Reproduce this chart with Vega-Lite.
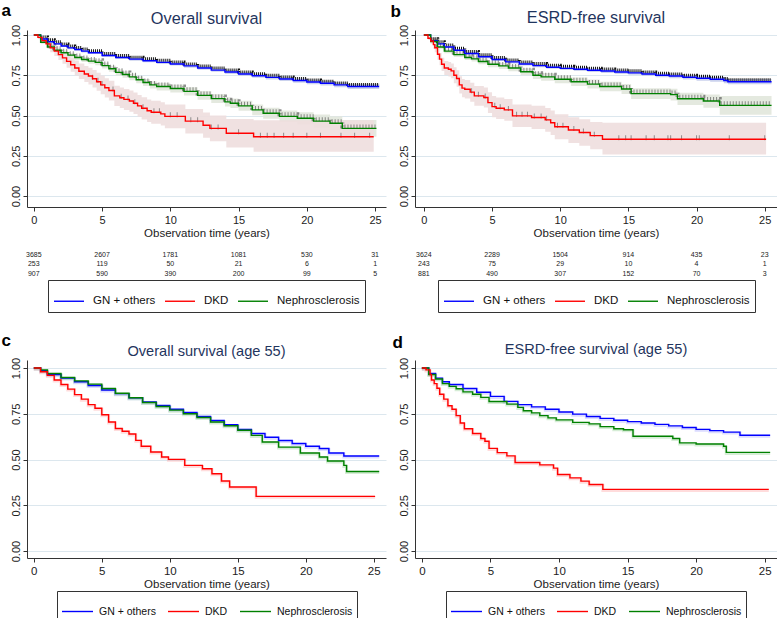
{
"$schema":"https://vega.github.io/schema/vega-lite/v6.json",
"padding":{"left":1,"top":1,"right":0,"bottom":0},
"config":{"font":"Liberation Sans","view":{"stroke":null},
 "axis":{"domainColor":"#333","tickColor":"#333","labelColor":"#222","titleColor":"#222","labelFont":"Liberation Sans","titleFont":"Liberation Sans","gridColor":"#dce7ee","tickSize":4,"titleFontWeight":"normal"},
 "title":{"font":"Liberation Sans","fontWeight":"normal","color":"#1f355e"},
 "legend":{"layout":{"bottom":{"anchor":"middle"}},"labelFont":"Liberation Sans","labelColor":"#111"}},
"datasets":{
"km":[
{"p":"a","g":"GN + others","t":0,"s":1,"lo":1,"hi":1},
{"p":"a","g":"GN + others","t":0.5,"s":0.975,"lo":0.97,"hi":0.98},
{"p":"a","g":"GN + others","t":1,"s":0.958,"lo":0.952,"hi":0.964},
{"p":"a","g":"GN + others","t":1.5,"s":0.945,"lo":0.938,"hi":0.952},
{"p":"a","g":"GN + others","t":2,"s":0.932,"lo":0.925,"hi":0.939},
{"p":"a","g":"GN + others","t":2.5,"s":0.92,"lo":0.912,"hi":0.928},
{"p":"a","g":"GN + others","t":3,"s":0.91,"lo":0.902,"hi":0.918},
{"p":"a","g":"GN + others","t":3.5,"s":0.9,"lo":0.892,"hi":0.908},
{"p":"a","g":"GN + others","t":4,"s":0.89,"lo":0.882,"hi":0.898},
{"p":"a","g":"GN + others","t":5,"s":0.873,"lo":0.864,"hi":0.882},
{"p":"a","g":"GN + others","t":6,"s":0.86,"lo":0.851,"hi":0.869},
{"p":"a","g":"GN + others","t":7,"s":0.85,"lo":0.84,"hi":0.86},
{"p":"a","g":"GN + others","t":8,"s":0.84,"lo":0.83,"hi":0.85},
{"p":"a","g":"GN + others","t":9,"s":0.83,"lo":0.82,"hi":0.84},
{"p":"a","g":"GN + others","t":10,"s":0.82,"lo":0.81,"hi":0.83},
{"p":"a","g":"GN + others","t":11,"s":0.808,"lo":0.797,"hi":0.819},
{"p":"a","g":"GN + others","t":12,"s":0.795,"lo":0.784,"hi":0.806},
{"p":"a","g":"GN + others","t":13,"s":0.782,"lo":0.771,"hi":0.793},
{"p":"a","g":"GN + others","t":14,"s":0.77,"lo":0.758,"hi":0.782},
{"p":"a","g":"GN + others","t":15,"s":0.758,"lo":0.746,"hi":0.77},
{"p":"a","g":"GN + others","t":16,"s":0.747,"lo":0.735,"hi":0.759},
{"p":"a","g":"GN + others","t":17,"s":0.737,"lo":0.724,"hi":0.75},
{"p":"a","g":"GN + others","t":18,"s":0.727,"lo":0.714,"hi":0.74},
{"p":"a","g":"GN + others","t":19,"s":0.717,"lo":0.704,"hi":0.73},
{"p":"a","g":"GN + others","t":20,"s":0.708,"lo":0.694,"hi":0.722},
{"p":"a","g":"GN + others","t":21,"s":0.7,"lo":0.686,"hi":0.714},
{"p":"a","g":"GN + others","t":22,"s":0.69,"lo":0.675,"hi":0.705},
{"p":"a","g":"GN + others","t":23,"s":0.68,"lo":0.665,"hi":0.695},
{"p":"a","g":"GN + others","t":25.3,"s":0.68,"lo":0.665,"hi":0.695},
{"p":"a","g":"Nephrosclerosis","t":0,"s":1,"lo":1,"hi":1},
{"p":"a","g":"Nephrosclerosis","t":0.5,"s":0.955,"lo":0.945,"hi":0.965},
{"p":"a","g":"Nephrosclerosis","t":1,"s":0.925,"lo":0.913,"hi":0.937},
{"p":"a","g":"Nephrosclerosis","t":1.5,"s":0.905,"lo":0.892,"hi":0.918},
{"p":"a","g":"Nephrosclerosis","t":2,"s":0.89,"lo":0.876,"hi":0.904},
{"p":"a","g":"Nephrosclerosis","t":2.5,"s":0.875,"lo":0.86,"hi":0.89},
{"p":"a","g":"Nephrosclerosis","t":3,"s":0.86,"lo":0.845,"hi":0.875},
{"p":"a","g":"Nephrosclerosis","t":3.5,"s":0.848,"lo":0.832,"hi":0.864},
{"p":"a","g":"Nephrosclerosis","t":4,"s":0.838,"lo":0.821,"hi":0.855},
{"p":"a","g":"Nephrosclerosis","t":4.5,"s":0.83,"lo":0.812,"hi":0.848},
{"p":"a","g":"Nephrosclerosis","t":5,"s":0.81,"lo":0.792,"hi":0.828},
{"p":"a","g":"Nephrosclerosis","t":5.5,"s":0.79,"lo":0.771,"hi":0.809},
{"p":"a","g":"Nephrosclerosis","t":6,"s":0.768,"lo":0.748,"hi":0.788},
{"p":"a","g":"Nephrosclerosis","t":6.5,"s":0.755,"lo":0.735,"hi":0.775},
{"p":"a","g":"Nephrosclerosis","t":7,"s":0.74,"lo":0.719,"hi":0.761},
{"p":"a","g":"Nephrosclerosis","t":7.5,"s":0.722,"lo":0.7,"hi":0.744},
{"p":"a","g":"Nephrosclerosis","t":8,"s":0.705,"lo":0.683,"hi":0.727},
{"p":"a","g":"Nephrosclerosis","t":8.5,"s":0.69,"lo":0.667,"hi":0.713},
{"p":"a","g":"Nephrosclerosis","t":9,"s":0.68,"lo":0.656,"hi":0.704},
{"p":"a","g":"Nephrosclerosis","t":10,"s":0.668,"lo":0.643,"hi":0.693},
{"p":"a","g":"Nephrosclerosis","t":11,"s":0.65,"lo":0.624,"hi":0.676},
{"p":"a","g":"Nephrosclerosis","t":12,"s":0.625,"lo":0.598,"hi":0.652},
{"p":"a","g":"Nephrosclerosis","t":13,"s":0.605,"lo":0.577,"hi":0.633},
{"p":"a","g":"Nephrosclerosis","t":14,"s":0.585,"lo":0.556,"hi":0.614},
{"p":"a","g":"Nephrosclerosis","t":14.4,"s":0.576,"lo":0.546,"hi":0.606},
{"p":"a","g":"Nephrosclerosis","t":15,"s":0.56,"lo":0.529,"hi":0.591},
{"p":"a","g":"Nephrosclerosis","t":16,"s":0.535,"lo":0.502,"hi":0.568},
{"p":"a","g":"Nephrosclerosis","t":16.8,"s":0.514,"lo":0.48,"hi":0.548},
{"p":"a","g":"Nephrosclerosis","t":18,"s":0.495,"lo":0.459,"hi":0.531},
{"p":"a","g":"Nephrosclerosis","t":19.3,"s":0.483,"lo":0.445,"hi":0.521},
{"p":"a","g":"Nephrosclerosis","t":20.5,"s":0.465,"lo":0.424,"hi":0.506},
{"p":"a","g":"Nephrosclerosis","t":21.7,"s":0.452,"lo":0.408,"hi":0.496},
{"p":"a","g":"Nephrosclerosis","t":22.6,"s":0.42,"lo":0.368,"hi":0.472},
{"p":"a","g":"Nephrosclerosis","t":25.1,"s":0.42,"lo":0.368,"hi":0.472},
{"p":"a","g":"DKD","t":0,"s":1,"lo":1,"hi":1},
{"p":"a","g":"DKD","t":0.3,"s":0.985,"lo":0.975,"hi":0.995},
{"p":"a","g":"DKD","t":0.6,"s":0.965,"lo":0.948,"hi":0.982},
{"p":"a","g":"DKD","t":0.9,"s":0.945,"lo":0.922,"hi":0.968},
{"p":"a","g":"DKD","t":1.2,"s":0.92,"lo":0.893,"hi":0.947},
{"p":"a","g":"DKD","t":1.5,"s":0.9,"lo":0.869,"hi":0.931},
{"p":"a","g":"DKD","t":1.8,"s":0.878,"lo":0.844,"hi":0.912},
{"p":"a","g":"DKD","t":2.1,"s":0.858,"lo":0.821,"hi":0.895},
{"p":"a","g":"DKD","t":2.4,"s":0.836,"lo":0.796,"hi":0.876},
{"p":"a","g":"DKD","t":2.7,"s":0.815,"lo":0.772,"hi":0.858},
{"p":"a","g":"DKD","t":3.0,"s":0.795,"lo":0.749,"hi":0.841},
{"p":"a","g":"DKD","t":3.3,"s":0.775,"lo":0.727,"hi":0.823},
{"p":"a","g":"DKD","t":3.7,"s":0.758,"lo":0.708,"hi":0.808},
{"p":"a","g":"DKD","t":4.0,"s":0.745,"lo":0.693,"hi":0.797},
{"p":"a","g":"DKD","t":4.3,"s":0.728,"lo":0.674,"hi":0.782},
{"p":"a","g":"DKD","t":4.6,"s":0.71,"lo":0.654,"hi":0.766},
{"p":"a","g":"DKD","t":4.9,"s":0.69,"lo":0.632,"hi":0.748},
{"p":"a","g":"DKD","t":5.2,"s":0.672,"lo":0.612,"hi":0.732},
{"p":"a","g":"DKD","t":5.5,"s":0.655,"lo":0.594,"hi":0.716},
{"p":"a","g":"DKD","t":5.9,"s":0.622,"lo":0.559,"hi":0.685},
{"p":"a","g":"DKD","t":6.3,"s":0.61,"lo":0.546,"hi":0.674},
{"p":"a","g":"DKD","t":6.6,"s":0.6,"lo":0.535,"hi":0.665},
{"p":"a","g":"DKD","t":7.0,"s":0.59,"lo":0.524,"hi":0.656},
{"p":"a","g":"DKD","t":7.3,"s":0.576,"lo":0.509,"hi":0.643},
{"p":"a","g":"DKD","t":7.6,"s":0.56,"lo":0.492,"hi":0.628},
{"p":"a","g":"DKD","t":7.9,"s":0.545,"lo":0.476,"hi":0.614},
{"p":"a","g":"DKD","t":8.3,"s":0.53,"lo":0.46,"hi":0.6},
{"p":"a","g":"DKD","t":8.6,"s":0.52,"lo":0.449,"hi":0.591},
{"p":"a","g":"DKD","t":9.3,"s":0.51,"lo":0.438,"hi":0.582},
{"p":"a","g":"DKD","t":9.6,"s":0.495,"lo":0.421,"hi":0.569},
{"p":"a","g":"DKD","t":11.1,"s":0.465,"lo":0.389,"hi":0.541},
{"p":"a","g":"DKD","t":12.4,"s":0.44,"lo":0.362,"hi":0.518},
{"p":"a","g":"DKD","t":12.9,"s":0.42,"lo":0.34,"hi":0.5},
{"p":"a","g":"DKD","t":14.1,"s":0.39,"lo":0.302,"hi":0.478},
{"p":"a","g":"DKD","t":16.1,"s":0.368,"lo":0.275,"hi":0.47},
{"p":"a","g":"DKD","t":24.9,"s":0.368,"lo":0.275,"hi":0.47},
{"p":"b","g":"GN + others","t":0,"s":1,"lo":1,"hi":1},
{"p":"b","g":"GN + others","t":0.5,"s":0.965,"lo":0.96,"hi":0.97},
{"p":"b","g":"GN + others","t":1,"s":0.945,"lo":0.939,"hi":0.951},
{"p":"b","g":"GN + others","t":1.5,"s":0.925,"lo":0.918,"hi":0.932},
{"p":"b","g":"GN + others","t":2.2,"s":0.905,"lo":0.897,"hi":0.913},
{"p":"b","g":"GN + others","t":3,"s":0.885,"lo":0.877,"hi":0.893},
{"p":"b","g":"GN + others","t":4,"s":0.865,"lo":0.856,"hi":0.874},
{"p":"b","g":"GN + others","t":5,"s":0.848,"lo":0.839,"hi":0.857},
{"p":"b","g":"GN + others","t":6,"s":0.833,"lo":0.823,"hi":0.843},
{"p":"b","g":"GN + others","t":7,"s":0.82,"lo":0.81,"hi":0.83},
{"p":"b","g":"GN + others","t":8,"s":0.81,"lo":0.8,"hi":0.82},
{"p":"b","g":"GN + others","t":9,"s":0.8,"lo":0.79,"hi":0.81},
{"p":"b","g":"GN + others","t":10,"s":0.793,"lo":0.782,"hi":0.804},
{"p":"b","g":"GN + others","t":11,"s":0.787,"lo":0.776,"hi":0.798},
{"p":"b","g":"GN + others","t":12,"s":0.781,"lo":0.77,"hi":0.792},
{"p":"b","g":"GN + others","t":13,"s":0.776,"lo":0.764,"hi":0.788},
{"p":"b","g":"GN + others","t":14,"s":0.77,"lo":0.758,"hi":0.782},
{"p":"b","g":"GN + others","t":15,"s":0.765,"lo":0.753,"hi":0.777},
{"p":"b","g":"GN + others","t":16,"s":0.758,"lo":0.745,"hi":0.771},
{"p":"b","g":"GN + others","t":17,"s":0.75,"lo":0.737,"hi":0.763},
{"p":"b","g":"GN + others","t":18,"s":0.745,"lo":0.731,"hi":0.759},
{"p":"b","g":"GN + others","t":19,"s":0.738,"lo":0.724,"hi":0.752},
{"p":"b","g":"GN + others","t":20,"s":0.731,"lo":0.716,"hi":0.746},
{"p":"b","g":"GN + others","t":21,"s":0.725,"lo":0.71,"hi":0.74},
{"p":"b","g":"GN + others","t":22,"s":0.717,"lo":0.701,"hi":0.733},
{"p":"b","g":"GN + others","t":22.3,"s":0.71,"lo":0.694,"hi":0.726},
{"p":"b","g":"GN + others","t":25.5,"s":0.71,"lo":0.694,"hi":0.726},
{"p":"b","g":"Nephrosclerosis","t":0,"s":1,"lo":1,"hi":1},
{"p":"b","g":"Nephrosclerosis","t":0.5,"s":0.96,"lo":0.952,"hi":0.968},
{"p":"b","g":"Nephrosclerosis","t":1,"s":0.925,"lo":0.914,"hi":0.936},
{"p":"b","g":"Nephrosclerosis","t":1.5,"s":0.9,"lo":0.887,"hi":0.913},
{"p":"b","g":"Nephrosclerosis","t":2.2,"s":0.878,"lo":0.864,"hi":0.892},
{"p":"b","g":"Nephrosclerosis","t":3,"s":0.86,"lo":0.845,"hi":0.875},
{"p":"b","g":"Nephrosclerosis","t":3.5,"s":0.852,"lo":0.836,"hi":0.868},
{"p":"b","g":"Nephrosclerosis","t":4,"s":0.835,"lo":0.818,"hi":0.852},
{"p":"b","g":"Nephrosclerosis","t":4.7,"s":0.818,"lo":0.8,"hi":0.836},
{"p":"b","g":"Nephrosclerosis","t":5.5,"s":0.808,"lo":0.789,"hi":0.827},
{"p":"b","g":"Nephrosclerosis","t":6.2,"s":0.795,"lo":0.775,"hi":0.815},
{"p":"b","g":"Nephrosclerosis","t":7.1,"s":0.772,"lo":0.75,"hi":0.794},
{"p":"b","g":"Nephrosclerosis","t":8,"s":0.75,"lo":0.727,"hi":0.773},
{"p":"b","g":"Nephrosclerosis","t":8.6,"s":0.74,"lo":0.716,"hi":0.764},
{"p":"b","g":"Nephrosclerosis","t":9.6,"s":0.725,"lo":0.7,"hi":0.75},
{"p":"b","g":"Nephrosclerosis","t":10.8,"s":0.71,"lo":0.684,"hi":0.736},
{"p":"b","g":"Nephrosclerosis","t":12,"s":0.695,"lo":0.667,"hi":0.723},
{"p":"b","g":"Nephrosclerosis","t":12.9,"s":0.68,"lo":0.651,"hi":0.709},
{"p":"b","g":"Nephrosclerosis","t":14.5,"s":0.665,"lo":0.634,"hi":0.696},
{"p":"b","g":"Nephrosclerosis","t":15.2,"s":0.636,"lo":0.603,"hi":0.669},
{"p":"b","g":"Nephrosclerosis","t":18.1,"s":0.63,"lo":0.594,"hi":0.666},
{"p":"b","g":"Nephrosclerosis","t":18.6,"s":0.604,"lo":0.566,"hi":0.642},
{"p":"b","g":"Nephrosclerosis","t":20.5,"s":0.59,"lo":0.549,"hi":0.631},
{"p":"b","g":"Nephrosclerosis","t":21.7,"s":0.563,"lo":0.505,"hi":0.621},
{"p":"b","g":"Nephrosclerosis","t":25.5,"s":0.563,"lo":0.505,"hi":0.621},
{"p":"b","g":"DKD","t":0,"s":1,"lo":1,"hi":1},
{"p":"b","g":"DKD","t":0.3,"s":0.98,"lo":0.97,"hi":0.99},
{"p":"b","g":"DKD","t":0.5,"s":0.963,"lo":0.945,"hi":0.981},
{"p":"b","g":"DKD","t":0.7,"s":0.94,"lo":0.915,"hi":0.965},
{"p":"b","g":"DKD","t":0.8,"s":0.921,"lo":0.893,"hi":0.949},
{"p":"b","g":"DKD","t":1.0,"s":0.88,"lo":0.846,"hi":0.914},
{"p":"b","g":"DKD","t":1.15,"s":0.85,"lo":0.812,"hi":0.888},
{"p":"b","g":"DKD","t":1.3,"s":0.818,"lo":0.777,"hi":0.859},
{"p":"b","g":"DKD","t":1.5,"s":0.795,"lo":0.751,"hi":0.839},
{"p":"b","g":"DKD","t":1.8,"s":0.787,"lo":0.742,"hi":0.832},
{"p":"b","g":"DKD","t":2.0,"s":0.777,"lo":0.731,"hi":0.823},
{"p":"b","g":"DKD","t":2.2,"s":0.75,"lo":0.701,"hi":0.799},
{"p":"b","g":"DKD","t":2.4,"s":0.73,"lo":0.679,"hi":0.781},
{"p":"b","g":"DKD","t":2.6,"s":0.69,"lo":0.636,"hi":0.744},
{"p":"b","g":"DKD","t":2.8,"s":0.67,"lo":0.614,"hi":0.726},
{"p":"b","g":"DKD","t":3.0,"s":0.663,"lo":0.606,"hi":0.72},
{"p":"b","g":"DKD","t":3.4,"s":0.645,"lo":0.586,"hi":0.704},
{"p":"b","g":"DKD","t":3.7,"s":0.622,"lo":0.561,"hi":0.683},
{"p":"b","g":"DKD","t":4.4,"s":0.612,"lo":0.55,"hi":0.674},
{"p":"b","g":"DKD","t":4.7,"s":0.58,"lo":0.516,"hi":0.644},
{"p":"b","g":"DKD","t":5.0,"s":0.555,"lo":0.489,"hi":0.621},
{"p":"b","g":"DKD","t":5.3,"s":0.545,"lo":0.478,"hi":0.612},
{"p":"b","g":"DKD","t":5.9,"s":0.535,"lo":0.467,"hi":0.603},
{"p":"b","g":"DKD","t":6.5,"s":0.498,"lo":0.428,"hi":0.568},
{"p":"b","g":"DKD","t":7.9,"s":0.488,"lo":0.416,"hi":0.56},
{"p":"b","g":"DKD","t":8.9,"s":0.473,"lo":0.399,"hi":0.547},
{"p":"b","g":"DKD","t":9.3,"s":0.455,"lo":0.379,"hi":0.531},
{"p":"b","g":"DKD","t":9.6,"s":0.43,"lo":0.352,"hi":0.508},
{"p":"b","g":"DKD","t":10.6,"s":0.41,"lo":0.33,"hi":0.49},
{"p":"b","g":"DKD","t":11.4,"s":0.395,"lo":0.313,"hi":0.477},
{"p":"b","g":"DKD","t":12.2,"s":0.375,"lo":0.29,"hi":0.46},
{"p":"b","g":"DKD","t":13.1,"s":0.353,"lo":0.258,"hi":0.455},
{"p":"b","g":"DKD","t":25.1,"s":0.353,"lo":0.258,"hi":0.455},
{"p":"c","g":"GN + others","t":0,"s":1},
{"p":"c","g":"GN + others","t":0.5,"s":0.985},
{"p":"c","g":"GN + others","t":1,"s":0.965},
{"p":"c","g":"GN + others","t":2,"s":0.945},
{"p":"c","g":"GN + others","t":3,"s":0.925},
{"p":"c","g":"GN + others","t":4,"s":0.905},
{"p":"c","g":"GN + others","t":5,"s":0.88},
{"p":"c","g":"GN + others","t":6,"s":0.86},
{"p":"c","g":"GN + others","t":7,"s":0.838},
{"p":"c","g":"GN + others","t":8,"s":0.815},
{"p":"c","g":"GN + others","t":9,"s":0.795},
{"p":"c","g":"GN + others","t":10,"s":0.775},
{"p":"c","g":"GN + others","t":11,"s":0.757},
{"p":"c","g":"GN + others","t":12,"s":0.735},
{"p":"c","g":"GN + others","t":13,"s":0.713},
{"p":"c","g":"GN + others","t":14,"s":0.69},
{"p":"c","g":"GN + others","t":15,"s":0.665},
{"p":"c","g":"GN + others","t":16,"s":0.642},
{"p":"c","g":"GN + others","t":17,"s":0.622},
{"p":"c","g":"GN + others","t":18,"s":0.604},
{"p":"c","g":"GN + others","t":19,"s":0.588},
{"p":"c","g":"GN + others","t":20,"s":0.573},
{"p":"c","g":"GN + others","t":21,"s":0.56},
{"p":"c","g":"GN + others","t":21.7,"s":0.536},
{"p":"c","g":"GN + others","t":22.8,"s":0.519},
{"p":"c","g":"GN + others","t":25.4,"s":0.519},
{"p":"c","g":"Nephrosclerosis","t":0,"s":1},
{"p":"c","g":"Nephrosclerosis","t":0.5,"s":0.99},
{"p":"c","g":"Nephrosclerosis","t":1,"s":0.97},
{"p":"c","g":"Nephrosclerosis","t":2,"s":0.948},
{"p":"c","g":"Nephrosclerosis","t":3,"s":0.93},
{"p":"c","g":"Nephrosclerosis","t":4,"s":0.912},
{"p":"c","g":"Nephrosclerosis","t":5,"s":0.888},
{"p":"c","g":"Nephrosclerosis","t":6,"s":0.862},
{"p":"c","g":"Nephrosclerosis","t":7,"s":0.838},
{"p":"c","g":"Nephrosclerosis","t":8,"s":0.812},
{"p":"c","g":"Nephrosclerosis","t":9,"s":0.79},
{"p":"c","g":"Nephrosclerosis","t":10,"s":0.77},
{"p":"c","g":"Nephrosclerosis","t":11,"s":0.75},
{"p":"c","g":"Nephrosclerosis","t":12,"s":0.73},
{"p":"c","g":"Nephrosclerosis","t":13,"s":0.705},
{"p":"c","g":"Nephrosclerosis","t":14,"s":0.685},
{"p":"c","g":"Nephrosclerosis","t":15,"s":0.66},
{"p":"c","g":"Nephrosclerosis","t":16,"s":0.632},
{"p":"c","g":"Nephrosclerosis","t":16.8,"s":0.596},
{"p":"c","g":"Nephrosclerosis","t":18,"s":0.568},
{"p":"c","g":"Nephrosclerosis","t":19.6,"s":0.536},
{"p":"c","g":"Nephrosclerosis","t":21,"s":0.514},
{"p":"c","g":"Nephrosclerosis","t":21.6,"s":0.492},
{"p":"c","g":"Nephrosclerosis","t":22.8,"s":0.468},
{"p":"c","g":"Nephrosclerosis","t":23,"s":0.435},
{"p":"c","g":"Nephrosclerosis","t":25.4,"s":0.435},
{"p":"c","g":"DKD","t":0,"s":1},
{"p":"c","g":"DKD","t":0.5,"s":0.98},
{"p":"c","g":"DKD","t":1,"s":0.96},
{"p":"c","g":"DKD","t":1.5,"s":0.935},
{"p":"c","g":"DKD","t":2,"s":0.91},
{"p":"c","g":"DKD","t":2.5,"s":0.885},
{"p":"c","g":"DKD","t":3,"s":0.855},
{"p":"c","g":"DKD","t":3.5,"s":0.83},
{"p":"c","g":"DKD","t":4,"s":0.8},
{"p":"c","g":"DKD","t":4.5,"s":0.78},
{"p":"c","g":"DKD","t":5,"s":0.745},
{"p":"c","g":"DKD","t":5.5,"s":0.705},
{"p":"c","g":"DKD","t":6,"s":0.67},
{"p":"c","g":"DKD","t":6.5,"s":0.655},
{"p":"c","g":"DKD","t":7,"s":0.64},
{"p":"c","g":"DKD","t":7.5,"s":0.605},
{"p":"c","g":"DKD","t":7.9,"s":0.573},
{"p":"c","g":"DKD","t":8.6,"s":0.541},
{"p":"c","g":"DKD","t":9.4,"s":0.514},
{"p":"c","g":"DKD","t":9.9,"s":0.501},
{"p":"c","g":"DKD","t":11.1,"s":0.468},
{"p":"c","g":"DKD","t":12.4,"s":0.45},
{"p":"c","g":"DKD","t":13.1,"s":0.422},
{"p":"c","g":"DKD","t":13.8,"s":0.383},
{"p":"c","g":"DKD","t":14.4,"s":0.35},
{"p":"c","g":"DKD","t":16.35,"s":0.299},
{"p":"c","g":"DKD","t":25.1,"s":0.299},
{"p":"d","g":"GN + others","t":0,"s":1},
{"p":"d","g":"GN + others","t":0.5,"s":0.97},
{"p":"d","g":"GN + others","t":1,"s":0.945},
{"p":"d","g":"GN + others","t":1.5,"s":0.925},
{"p":"d","g":"GN + others","t":2,"s":0.91},
{"p":"d","g":"GN + others","t":3,"s":0.888},
{"p":"d","g":"GN + others","t":4,"s":0.868},
{"p":"d","g":"GN + others","t":5,"s":0.845},
{"p":"d","g":"GN + others","t":6,"s":0.818},
{"p":"d","g":"GN + others","t":7,"s":0.8},
{"p":"d","g":"GN + others","t":8,"s":0.788},
{"p":"d","g":"GN + others","t":9,"s":0.775},
{"p":"d","g":"GN + others","t":10,"s":0.76},
{"p":"d","g":"GN + others","t":11,"s":0.748},
{"p":"d","g":"GN + others","t":12,"s":0.735},
{"p":"d","g":"GN + others","t":13,"s":0.725},
{"p":"d","g":"GN + others","t":14,"s":0.715},
{"p":"d","g":"GN + others","t":15,"s":0.707},
{"p":"d","g":"GN + others","t":16,"s":0.7},
{"p":"d","g":"GN + others","t":17,"s":0.692},
{"p":"d","g":"GN + others","t":18,"s":0.684},
{"p":"d","g":"GN + others","t":19,"s":0.675},
{"p":"d","g":"GN + others","t":20,"s":0.665},
{"p":"d","g":"GN + others","t":21,"s":0.658},
{"p":"d","g":"GN + others","t":22,"s":0.65},
{"p":"d","g":"GN + others","t":23.2,"s":0.633},
{"p":"d","g":"GN + others","t":25.4,"s":0.633},
{"p":"d","g":"Nephrosclerosis","t":0,"s":1},
{"p":"d","g":"Nephrosclerosis","t":0.5,"s":0.965},
{"p":"d","g":"Nephrosclerosis","t":1,"s":0.94},
{"p":"d","g":"Nephrosclerosis","t":1.5,"s":0.915},
{"p":"d","g":"Nephrosclerosis","t":2,"s":0.9},
{"p":"d","g":"Nephrosclerosis","t":2.5,"s":0.887},
{"p":"d","g":"Nephrosclerosis","t":3,"s":0.87},
{"p":"d","g":"Nephrosclerosis","t":3.7,"s":0.857},
{"p":"d","g":"Nephrosclerosis","t":4.3,"s":0.84},
{"p":"d","g":"Nephrosclerosis","t":4.9,"s":0.817},
{"p":"d","g":"Nephrosclerosis","t":6.2,"s":0.803},
{"p":"d","g":"Nephrosclerosis","t":7,"s":0.785},
{"p":"d","g":"Nephrosclerosis","t":7.4,"s":0.767},
{"p":"d","g":"Nephrosclerosis","t":8,"s":0.755},
{"p":"d","g":"Nephrosclerosis","t":8.6,"s":0.74},
{"p":"d","g":"Nephrosclerosis","t":9.2,"s":0.728},
{"p":"d","g":"Nephrosclerosis","t":9.8,"s":0.717},
{"p":"d","g":"Nephrosclerosis","t":11,"s":0.703},
{"p":"d","g":"Nephrosclerosis","t":12.2,"s":0.695},
{"p":"d","g":"Nephrosclerosis","t":13,"s":0.68},
{"p":"d","g":"Nephrosclerosis","t":14,"s":0.668},
{"p":"d","g":"Nephrosclerosis","t":14.7,"s":0.663},
{"p":"d","g":"Nephrosclerosis","t":15.4,"s":0.627},
{"p":"d","g":"Nephrosclerosis","t":18.3,"s":0.615},
{"p":"d","g":"Nephrosclerosis","t":18.8,"s":0.591},
{"p":"d","g":"Nephrosclerosis","t":20,"s":0.585},
{"p":"d","g":"Nephrosclerosis","t":22,"s":0.573},
{"p":"d","g":"Nephrosclerosis","t":22.2,"s":0.539},
{"p":"d","g":"Nephrosclerosis","t":25.4,"s":0.539},
{"p":"d","g":"DKD","t":0,"s":1},
{"p":"d","g":"DKD","t":0.3,"s":0.99},
{"p":"d","g":"DKD","t":0.6,"s":0.965},
{"p":"d","g":"DKD","t":0.7,"s":0.935},
{"p":"d","g":"DKD","t":0.9,"s":0.915},
{"p":"d","g":"DKD","t":1.1,"s":0.89},
{"p":"d","g":"DKD","t":1.3,"s":0.857},
{"p":"d","g":"DKD","t":1.6,"s":0.83},
{"p":"d","g":"DKD","t":1.9,"s":0.794},
{"p":"d","g":"DKD","t":2.2,"s":0.775},
{"p":"d","g":"DKD","t":2.5,"s":0.74},
{"p":"d","g":"DKD","t":2.8,"s":0.7},
{"p":"d","g":"DKD","t":3.1,"s":0.668},
{"p":"d","g":"DKD","t":3.7,"s":0.642},
{"p":"d","g":"DKD","t":4.3,"s":0.615},
{"p":"d","g":"DKD","t":4.6,"s":0.6},
{"p":"d","g":"DKD","t":4.9,"s":0.561},
{"p":"d","g":"DKD","t":5.5,"s":0.538},
{"p":"d","g":"DKD","t":6.2,"s":0.52},
{"p":"d","g":"DKD","t":6.8,"s":0.484},
{"p":"d","g":"DKD","t":8.6,"s":0.471},
{"p":"d","g":"DKD","t":9.6,"s":0.453},
{"p":"d","g":"DKD","t":9.9,"s":0.418},
{"p":"d","g":"DKD","t":10.8,"s":0.4},
{"p":"d","g":"DKD","t":11.6,"s":0.382},
{"p":"d","g":"DKD","t":12.2,"s":0.364},
{"p":"d","g":"DKD","t":13.2,"s":0.337},
{"p":"d","g":"DKD","t":25.3,"s":0.337}
],
"cens":[
{"p":"a","g":"DKD","t":4.3,"s":0.728},{"p":"a","g":"DKD","t":4.7,"s":0.71},{"p":"a","g":"DKD","t":5.0,"s":0.69},
{"p":"a","g":"DKD","t":5.8,"s":0.655},{"p":"a","g":"DKD","t":6.4,"s":0.61},{"p":"a","g":"DKD","t":6.9,"s":0.6},
{"p":"a","g":"DKD","t":7.4,"s":0.576},{"p":"a","g":"DKD","t":8.0,"s":0.545},{"p":"a","g":"DKD","t":8.8,"s":0.52},
{"p":"a","g":"DKD","t":9.2,"s":0.52},{"p":"a","g":"DKD","t":10.0,"s":0.495},{"p":"a","g":"DKD","t":10.5,"s":0.495},
{"p":"a","g":"DKD","t":11.5,"s":0.465},{"p":"a","g":"DKD","t":12.0,"s":0.465},{"p":"a","g":"DKD","t":13.0,"s":0.42},
{"p":"a","g":"DKD","t":13.5,"s":0.42},{"p":"a","g":"DKD","t":15.0,"s":0.39},{"p":"a","g":"DKD","t":16.6,"s":0.368},
{"p":"a","g":"DKD","t":17.1,"s":0.368},{"p":"a","g":"DKD","t":17.6,"s":0.368},{"p":"a","g":"DKD","t":18.3,"s":0.368},
{"p":"a","g":"DKD","t":19.0,"s":0.368},{"p":"a","g":"DKD","t":20.0,"s":0.368},{"p":"a","g":"DKD","t":21.0,"s":0.368},
{"p":"a","g":"DKD","t":22.5,"s":0.368},{"p":"a","g":"DKD","t":23.5,"s":0.368},{"p":"a","g":"DKD","t":24.6,"s":0.368},
{"p":"b","g":"DKD","t":3.5,"s":0.645},{"p":"b","g":"DKD","t":4.0,"s":0.622},{"p":"b","g":"DKD","t":4.5,"s":0.612},
{"p":"b","g":"DKD","t":5.2,"s":0.555},{"p":"b","g":"DKD","t":5.6,"s":0.545},{"p":"b","g":"DKD","t":6.2,"s":0.535},
{"p":"b","g":"DKD","t":6.8,"s":0.498},{"p":"b","g":"DKD","t":7.2,"s":0.498},{"p":"b","g":"DKD","t":7.6,"s":0.498},
{"p":"b","g":"DKD","t":8.1,"s":0.488},{"p":"b","g":"DKD","t":8.6,"s":0.488},{"p":"b","g":"DKD","t":9.0,"s":0.473},
{"p":"b","g":"DKD","t":9.8,"s":0.43},{"p":"b","g":"DKD","t":10.2,"s":0.43},{"p":"b","g":"DKD","t":11.0,"s":0.41},
{"p":"b","g":"DKD","t":11.7,"s":0.395},{"p":"b","g":"DKD","t":12.5,"s":0.375},{"p":"b","g":"DKD","t":14.3,"s":0.353},
{"p":"b","g":"DKD","t":14.8,"s":0.353},{"p":"b","g":"DKD","t":15.2,"s":0.353},{"p":"b","g":"DKD","t":16.3,"s":0.353},
{"p":"b","g":"DKD","t":16.9,"s":0.353},{"p":"b","g":"DKD","t":17.9,"s":0.353},{"p":"b","g":"DKD","t":18.1,"s":0.353},
{"p":"b","g":"DKD","t":18.9,"s":0.353},{"p":"b","g":"DKD","t":20.0,"s":0.353},{"p":"b","g":"DKD","t":20.2,"s":0.353},
{"p":"b","g":"DKD","t":22.4,"s":0.353},{"p":"b","g":"DKD","t":25.0,"s":0.353}
],
"risk":[
{"p":"a","g":"GN + others","t":0,"n":3685},{"p":"a","g":"GN + others","t":5,"n":2607},{"p":"a","g":"GN + others","t":10,"n":1781},{"p":"a","g":"GN + others","t":15,"n":1081},{"p":"a","g":"GN + others","t":20,"n":530},{"p":"a","g":"GN + others","t":25,"n":31},
{"p":"a","g":"DKD","t":0,"n":253},{"p":"a","g":"DKD","t":5,"n":119},{"p":"a","g":"DKD","t":10,"n":50},{"p":"a","g":"DKD","t":15,"n":21},{"p":"a","g":"DKD","t":20,"n":6},{"p":"a","g":"DKD","t":25,"n":1},
{"p":"a","g":"Nephrosclerosis","t":0,"n":907},{"p":"a","g":"Nephrosclerosis","t":5,"n":590},{"p":"a","g":"Nephrosclerosis","t":10,"n":390},{"p":"a","g":"Nephrosclerosis","t":15,"n":200},{"p":"a","g":"Nephrosclerosis","t":20,"n":99},{"p":"a","g":"Nephrosclerosis","t":25,"n":5},
{"p":"b","g":"GN + others","t":0,"n":3624},{"p":"b","g":"GN + others","t":5,"n":2289},{"p":"b","g":"GN + others","t":10,"n":1504},{"p":"b","g":"GN + others","t":15,"n":914},{"p":"b","g":"GN + others","t":20,"n":435},{"p":"b","g":"GN + others","t":25,"n":23},
{"p":"b","g":"DKD","t":0,"n":243},{"p":"b","g":"DKD","t":5,"n":75},{"p":"b","g":"DKD","t":10,"n":29},{"p":"b","g":"DKD","t":15,"n":10},{"p":"b","g":"DKD","t":20,"n":4},{"p":"b","g":"DKD","t":25,"n":1},
{"p":"b","g":"Nephrosclerosis","t":0,"n":881},{"p":"b","g":"Nephrosclerosis","t":5,"n":490},{"p":"b","g":"Nephrosclerosis","t":10,"n":307},{"p":"b","g":"Nephrosclerosis","t":15,"n":152},{"p":"b","g":"Nephrosclerosis","t":20,"n":70},{"p":"b","g":"Nephrosclerosis","t":25,"n":3}
]
},
"bounds":"flush","columns":2,"spacing":{"row":43,"column":29},
"resolve":{"legend":{"color":"independent"}},
"concat":[
  {"width":359,"height":177,
   "title":{"text":"Overall survival","fontSize":16.3,"offset":-26},
   "data":{"name":"km"},"transform":[{"filter":"datum.p=='a'"}],
   "encoding":{
    "x":{"field":"t","type":"quantitative","scale":{"domain":[-0.5,25.8],"nice":false,"zero":false},
      "axis":{"values":[0,5,10,15,20,25],"title":"Observation time (years)","grid":false,"labelFontSize":11,"titleFontSize":11.5,"labelPadding":3,"titlePadding":2,"labelFlush":false}},
    "y":{"field":"s","type":"quantitative","scale":{"domain":[-0.068,1.031],"nice":false,"zero":false},
      "axis":{"values":[0,0.25,0.5,0.75,1],"format":".2f","grid":true,"labelAngle":270,"labelAlign":"center","labelBaseline":"bottom","labelFontSize":11,"labelPadding":2,"title":"a","titleAngle":0,"titleX":-26,"titleY":-15,"titleAlign":"left","titleBaseline":"alphabetic","titleFontSize":17,"titleFontWeight":"bold","titleColor":"#000"}}},
   "layer":[
    {"mark":{"type":"area","interpolate":"step-after","fillOpacity":0.9},
     "encoding":{"y":{"field":"lo","type":"quantitative","scale":{"domain":[-0.068,1.031],"nice":false,"zero":false},
      "axis":{"values":[0,0.25,0.5,0.75,1],"format":".2f","grid":true,"labelAngle":270,"labelAlign":"center","labelBaseline":"bottom","labelFontSize":11,"labelPadding":2,"title":"a","titleAngle":0,"titleX":-26,"titleY":-15,"titleAlign":"left","titleBaseline":"alphabetic","titleFontSize":17,"titleFontWeight":"bold","titleColor":"#000"}},
      "y2":{"field":"hi"},
      "fill":{"field":"g","type":"nominal","scale":{"domain":["GN + others","DKD","Nephrosclerosis"],"range":["#c5cdeb","#eedede","#e1e7dc"]},"legend":null}}},
    {"transform":[{"filter":"datum.g=='GN + others' && datum.t>0.2"}],"mark":{"type":"line","interpolate":"step-after","stroke":"#111","strokeWidth":3,"strokeDash":[1,1],"yOffset":-2}},
    {"transform":[{"filter":"datum.g=='Nephrosclerosis' && datum.t>0.2"}],"mark":{"type":"line","interpolate":"step-after","stroke":"#444","strokeWidth":4,"strokeDash":[1,2],"opacity":0.6,"yOffset":-2}},
    {"data":{"name":"cens"},"transform":[{"filter":"datum.p=='a'"}],"mark":{"type":"tick","orient":"vertical","size":5,"thickness":1,"color":"#666","yOffset":-1.5}},
    {"mark":{"type":"line","interpolate":"step-after","strokeWidth":1.4},
     "encoding":{"color":{"field":"g","type":"nominal","scale":{"domain":["GN + others","DKD","Nephrosclerosis"],"range":["#0000ff","#ff0000","#008000"]},
      "legend":{"orient":"bottom","direction":"horizontal","title":null,"symbolType":"stroke","symbolSize":900,"symbolStrokeWidth":1.4,"labelFontSize":11.5,"labelOffset":8,"columnPadding":6,"padding":5,"strokeColor":"#333","offset":41}}}}
   ]},
  {"width":362,"height":177,
   "title":{"text":"ESRD-free survival","fontSize":16.3,"offset":-24.5},
   "data":{"name":"km"},"transform":[{"filter":"datum.p=='b'"}],
   "encoding":{
    "x":{"field":"t","type":"quantitative","scale":{"domain":[-0.65,25.9],"nice":false,"zero":false},
      "axis":{"values":[0,5,10,15,20,25],"title":"Observation time (years)","grid":false,"labelFontSize":11,"titleFontSize":11.5,"labelPadding":3,"titlePadding":2,"labelFlush":false}},
    "y":{"field":"s","type":"quantitative","scale":{"domain":[-0.068,1.031],"nice":false,"zero":false},
      "axis":{"values":[0,0.25,0.5,0.75,1],"format":".2f","grid":true,"labelAngle":270,"labelAlign":"center","labelBaseline":"bottom","labelFontSize":11,"labelPadding":2,"title":"b","titleAngle":0,"titleX":-25,"titleY":-14,"titleAlign":"left","titleBaseline":"alphabetic","titleFontSize":17,"titleFontWeight":"bold","titleColor":"#000"}}},
   "layer":[
    {"mark":{"type":"area","interpolate":"step-after","fillOpacity":0.9},
     "encoding":{"y":{"field":"lo","type":"quantitative","scale":{"domain":[-0.068,1.031],"nice":false,"zero":false},
      "axis":{"values":[0,0.25,0.5,0.75,1],"format":".2f","grid":true,"labelAngle":270,"labelAlign":"center","labelBaseline":"bottom","labelFontSize":11,"labelPadding":2,"title":"b","titleAngle":0,"titleX":-25,"titleY":-14,"titleAlign":"left","titleBaseline":"alphabetic","titleFontSize":17,"titleFontWeight":"bold","titleColor":"#000"}},
      "y2":{"field":"hi"},
      "fill":{"field":"g","type":"nominal","scale":{"domain":["GN + others","DKD","Nephrosclerosis"],"range":["#c5cdeb","#eedede","#e1e7dc"]},"legend":null}}},
    {"transform":[{"filter":"datum.g=='GN + others' && datum.t>0.2"}],"mark":{"type":"line","interpolate":"step-after","stroke":"#111","strokeWidth":3,"strokeDash":[1,1],"yOffset":-2}},
    {"transform":[{"filter":"datum.g=='Nephrosclerosis' && datum.t>0.2"}],"mark":{"type":"line","interpolate":"step-after","stroke":"#444","strokeWidth":4,"strokeDash":[1,2],"opacity":0.6,"yOffset":-2}},
    {"data":{"name":"cens"},"transform":[{"filter":"datum.p=='b'"}],"mark":{"type":"tick","orient":"vertical","size":5,"thickness":1,"color":"#666","yOffset":-1.5}},
    {"mark":{"type":"line","interpolate":"step-after","strokeWidth":1.4},
     "encoding":{"color":{"field":"g","type":"nominal","scale":{"domain":["GN + others","DKD","Nephrosclerosis"],"range":["#0000ff","#ff0000","#008000"]},
      "legend":{"orient":"bottom","direction":"horizontal","title":null,"symbolType":"stroke","symbolSize":900,"symbolStrokeWidth":1.4,"labelFontSize":11.5,"labelOffset":8,"columnPadding":6,"padding":5,"strokeColor":"#333","offset":41}}}}
   ]},
  {"width":359,"height":67,
   "data":{"name":"risk"},"transform":[{"filter":"datum.p=='a'"}],
   "mark":{"type":"text","fontSize":7,"color":"#222","baseline":"middle"},
   "encoding":{
    "x":{"field":"t","type":"quantitative","scale":{"domain":[-0.5,25.8],"nice":false,"zero":false},"axis":null},
    "y":{"field":"g","type":"nominal","scale":{"type":"point","domain":["GN + others","DKD","Nephrosclerosis","r4","r5","r6","r7"],"padding":0.5},"axis":null},
    "text":{"field":"n","type":"quantitative","format":"d"}}},
  {"width":362,"height":67,
   "data":{"name":"risk"},"transform":[{"filter":"datum.p=='b'"}],
   "mark":{"type":"text","fontSize":7,"color":"#222","baseline":"middle"},
   "encoding":{
    "x":{"field":"t","type":"quantitative","scale":{"domain":[-0.65,25.9],"nice":false,"zero":false},"axis":null},
    "y":{"field":"g","type":"nominal","scale":{"type":"point","domain":["GN + others","DKD","Nephrosclerosis","r4","r5","r6","r7"],"padding":0.5},"axis":null},
    "text":{"field":"n","type":"quantitative","format":"d"}}},
  {"width":359,"height":198,
   "title":{"text":"Overall survival (age 55)","fontSize":14.6,"offset":-28},
   "data":{"name":"km"},"transform":[{"filter":"datum.p=='c'"}],
   "encoding":{
    "x":{"field":"t","type":"quantitative","scale":{"domain":[-0.5,25.9],"nice":false,"zero":false},
      "axis":{"values":[0,5,10,15,20,25],"title":"Observation time (years)","grid":false,"labelFontSize":11.5,"titleFontSize":11.5,"labelPadding":3,"titlePadding":2,"labelFlush":false}},
    "y":{"field":"s","type":"quantitative","scale":{"domain":[-0.038,1.044],"nice":false,"zero":false},
      "axis":{"values":[0,0.25,0.5,0.75,1],"format":".2f","grid":true,"labelAngle":270,"labelAlign":"center","labelBaseline":"bottom","labelFontSize":11,"labelPadding":2,"title":"c","titleAngle":0,"titleX":-26,"titleY":-15,"titleAlign":"left","titleBaseline":"alphabetic","titleFontSize":17,"titleFontWeight":"bold","titleColor":"#000"}}},
   "layer":[
    {"mark":{"type":"line","interpolate":"step-after","strokeWidth":3,"opacity":0.35,"yOffset":1},
     "encoding":{"stroke":{"field":"g","type":"nominal","scale":{"domain":["GN + others","DKD","Nephrosclerosis"],"range":["#9a9aff","#ff9a9a","#8acc8a"]},"legend":null}}},
    {"mark":{"type":"line","interpolate":"step-after","strokeWidth":1.4},
     "encoding":{"color":{"field":"g","type":"nominal","scale":{"domain":["GN + others","DKD","Nephrosclerosis"],"range":["#0000ff","#ff0000","#008000"]},
      "legend":{"orient":"bottom","direction":"horizontal","title":null,"symbolType":"stroke","symbolSize":961,"symbolStrokeWidth":1.4,"labelFontSize":10.5,"labelOffset":5,"columnPadding":9,"padding":4,"strokeColor":"#333","offset":1}}}}
   ]},
  {"width":362,"height":198,
   "title":{"text":"ESRD-free survival (age 55)","fontSize":14.6,"offset":-24},
   "data":{"name":"km"},"transform":[{"filter":"datum.p=='d'"}],
   "encoding":{
    "x":{"field":"t","type":"quantitative","scale":{"domain":[-0.5,25.9],"nice":false,"zero":false},
      "axis":{"values":[0,5,10,15,20,25],"title":"Observation time (years)","grid":false,"labelFontSize":11.5,"titleFontSize":11.5,"labelPadding":3,"titlePadding":2,"labelFlush":false}},
    "y":{"field":"s","type":"quantitative","scale":{"domain":[-0.038,1.044],"nice":false,"zero":false},
      "axis":{"values":[0,0.25,0.5,0.75,1],"format":".2f","grid":true,"labelAngle":270,"labelAlign":"center","labelBaseline":"bottom","labelFontSize":11,"labelPadding":2,"title":"d","titleAngle":0,"titleX":-23,"titleY":-13,"titleAlign":"left","titleBaseline":"alphabetic","titleFontSize":17,"titleFontWeight":"bold","titleColor":"#000"}}},
   "layer":[
    {"mark":{"type":"line","interpolate":"step-after","strokeWidth":3,"opacity":0.35,"yOffset":1},
     "encoding":{"stroke":{"field":"g","type":"nominal","scale":{"domain":["GN + others","DKD","Nephrosclerosis"],"range":["#9a9aff","#ff9a9a","#8acc8a"]},"legend":null}}},
    {"mark":{"type":"line","interpolate":"step-after","strokeWidth":1.4},
     "encoding":{"color":{"field":"g","type":"nominal","scale":{"domain":["GN + others","DKD","Nephrosclerosis"],"range":["#0000ff","#ff0000","#008000"]},
      "legend":{"orient":"bottom","direction":"horizontal","title":null,"symbolType":"stroke","symbolSize":961,"symbolStrokeWidth":1.4,"labelFontSize":10.5,"labelOffset":5,"columnPadding":9,"padding":4,"strokeColor":"#333","offset":1}}}}
   ]}
]
}
